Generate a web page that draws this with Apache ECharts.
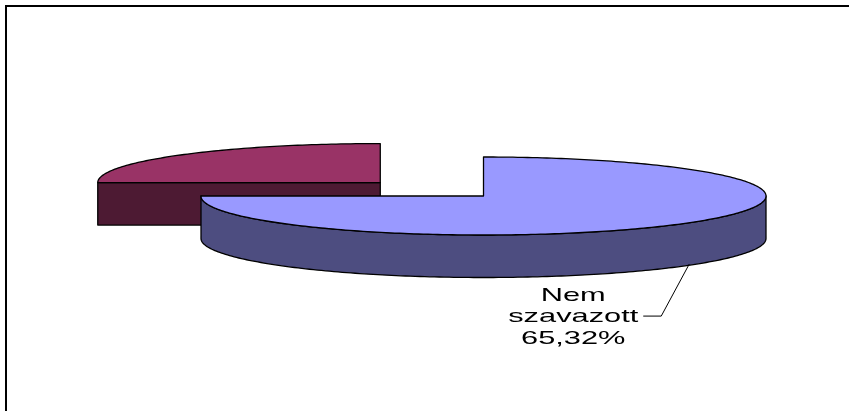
<!DOCTYPE html>
<html>
<head>
<meta charset="utf-8">
<script src="https://cdn.jsdelivr.net/npm/echarts@6/dist/echarts.min.js"></script>
<style>
html,body{margin:0;padding:0;background:#fff;}
#chart{width:849px;height:411px;}
</style>
</head>
<body>
<div id="chart"></div>
<script>
// ---- data ----
const categories = ['Nem szavazott', 'Szavazott'];
const values = [65.32, 21.77];           // shown as percentage values
const showLabel = [true, false];
const explode = [0, 1];

// ---- style / layout constants ----
const topColors  = ['#9999ff', '#993366'];
const sideColors = ['#4d4d80', '#4d1a33'];
const CX = 483.5, CY = 196, RX = 282.5, RY = 39, DEPTH = 42.5;
const EXPLODE_X = 146, EXPLODE_Y = 19;
const START_ANGLE = 90; // clockwise from 12 o'clock

const total = values.reduce((a, b) => a + b, 0);
const rad = d => d * Math.PI / 180;

function fmt(v) {
  return v.toFixed(2).replace('.', ',') + '%';
}

function arc(cx, cy, from, to, h) {
  const pts = [];
  const n = Math.max(2, Math.ceil(Math.abs(to - from)));
  for (let i = 0; i <= n; i++) {
    const t = from + (to - from) * i / n;
    pts.push([cx + RX * Math.cos(rad(t)), cy - RY * Math.sin(rad(t)) + h]);
  }
  return pts;
}

function renderItem(params, api) {
  const idx = params.dataIndex;
  let cum = 0;
  for (let i = 0; i < idx; i++) cum += values[i];
  const v = api.value(0);
  const a1 = START_ANGLE - 360 * cum / total;
  const a2 = START_ANGLE - 360 * (cum + v) / total;
  const mid = (a1 + a2) / 2;
  const cx = CX + explode[idx] * EXPLODE_X * Math.cos(rad(mid));
  const cy = CY - explode[idx] * EXPLODE_Y * Math.sin(rad(mid));
  const stroke = { stroke: '#000', lineWidth: 1.3, lineJoin: 'round' };
  const zBase = idx === 0 ? 20 : 0;
  const children = [];

  // radial faces
  const faces = [];
  if (Math.cos(rad(a1)) < -1e-6) faces.push(a1);
  if (Math.cos(rad(a2)) > 1e-6) faces.push(a2);
  faces.forEach(phi => {
    const p = [cx + RX * Math.cos(rad(phi)), cy - RY * Math.sin(rad(phi))];
    children.push({
      type: 'polygon', z2: zBase + 1,
      shape: { points: [[cx, cy], p, [p[0], p[1] + DEPTH], [cx, cy + DEPTH]] },
      style: Object.assign({ fill: sideColors[idx] }, stroke)
    });
  });

  // outer wall (front half)
  const lo = Math.max(a2, -180), hi = Math.min(a1, 0);
  if (lo < hi) {
    const topArc = arc(cx, cy, hi, lo, 0);
    const botArc = arc(cx, cy, lo, hi, DEPTH);
    children.push({
      type: 'polygon', z2: zBase + 2,
      shape: { points: topArc.concat(botArc) },
      style: Object.assign({ fill: sideColors[idx] }, stroke)
    });
  }

  // top face
  children.push({
    type: 'polygon', z2: zBase + 3,
    shape: { points: [[cx, cy]].concat(arc(cx, cy, a1, a2, 0)) },
    style: Object.assign({ fill: topColors[idx] }, stroke)
  });

  // label with leader line
  if (showLabel[idx]) {
    const ax = cx + RX * Math.cos(rad(mid));
    const ay = cy - RY * Math.sin(rad(mid)) + DEPTH;
    children.push({
      type: 'polyline', z2: zBase + 4,
      shape: { points: [[ax + 6, ay - 2], [ax - 22, ay + 50], [ax - 40, ay + 50]] },
      style: { stroke: '#000', lineWidth: 1, fill: 'none' }
    });
    children.push({
      type: 'text', z2: zBase + 5,
      x: ax - 110, y: ay + 51, scaleX: 1.62,
      style: {
        text: 'Nem\nszavazott\n' + fmt(v),
        fontFamily: '"Liberation Sans", Arial, sans-serif',
        fontSize: 19, lineHeight: 21.5,
        fill: '#000', align: 'center', verticalAlign: 'middle'
      }
    });
  }
  return { type: 'group', children };
}

const chart = echarts.init(document.getElementById('chart'), null, { renderer: 'canvas' });
chart.setOption({
  animation: false,
  backgroundColor: '#ffffff',
  graphic: [{
    type: 'rect', z: -1,
    shape: { x: 6, y: 6, width: 1000, height: 1000 },
    style: { fill: 'none', stroke: '#000', lineWidth: 2 }
  }],
  series: [{
    type: 'custom',
    coordinateSystem: 'none',
    renderItem: renderItem,
    data: values.map((v, i) => ({ name: categories[i], value: [v] }))
  }]
});
</script>
</body>
</html>
